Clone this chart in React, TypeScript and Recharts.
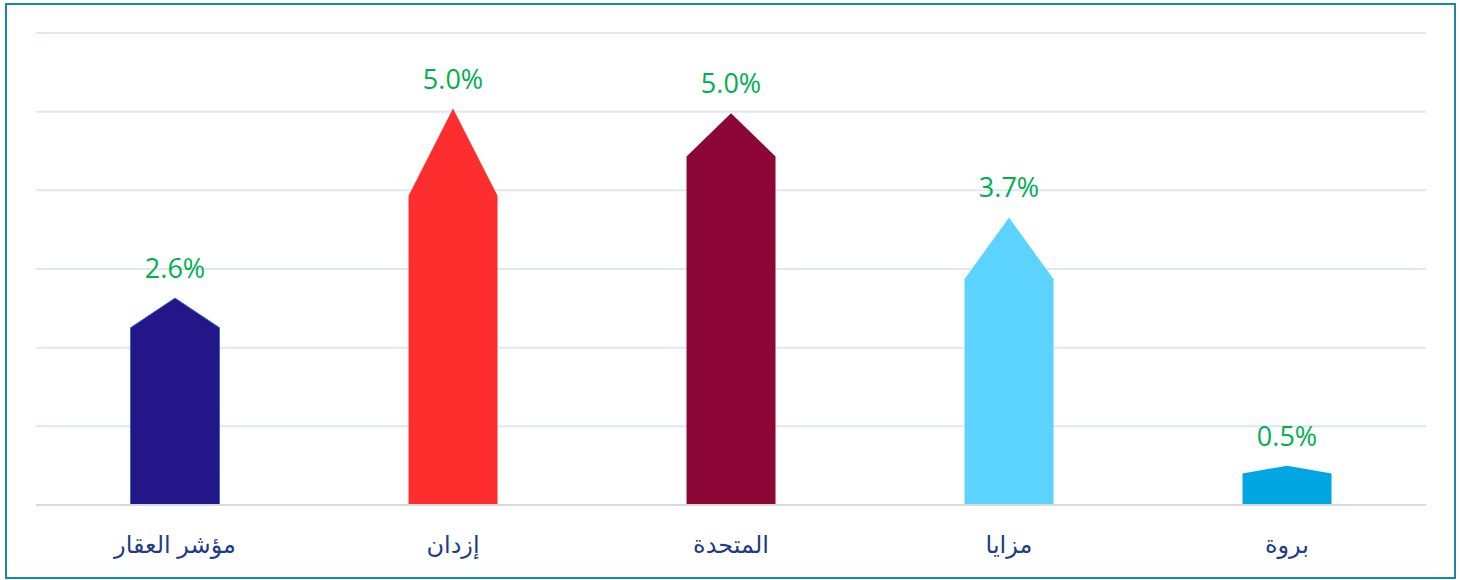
import React from 'react';
import { BarChart, Bar, XAxis, YAxis, CartesianGrid, LabelList, Cell } from 'recharts';

// companies, left to right
const companies = ['مؤشر العقار', 'إزدان', 'المتحدة', 'مزايا', 'بروة'];
// tip of each arrow (percent)
const changeValues = [2.63, 5.04, 4.98, 3.655, 0.5];
// where the straight body ends and the pointed cap starts (percent)
const shoulderValues = [2.254, 3.93, 4.43, 2.87, 0.4];
const yTicks = [0, 1, 2, 3, 4, 5, 6];

const barColors = ['#241689', '#ff2e2e', '#8c0735', '#5cd3ff', '#00a6e2'];

const data = companies.map((name, i) => ({
  name,
  value: changeValues[i],
  shoulder: shoulderValues[i],
}));

const ArrowBar = (props: any) => {
  const { x, y, width, height, index, fill } = props;
  if (height == null || height <= 0) return null;
  const d = data[index];
  const capH = height * (1 - d.shoulder / d.value);
  const bottom = y + height;
  const shoulderY = y + capH;
  const path = `M${x},${bottom} L${x},${shoulderY} L${x + width / 2},${y} L${x + width},${shoulderY} L${x + width},${bottom} Z`;
  const outlined = index === 0;
  return (
    <path
      d={path}
      fill={fill}
      stroke={outlined ? '#2f6fd0' : 'none'}
      strokeWidth={outlined ? 1 : 0}
    />
  );
};

const App: React.FC = () => {
  return (
    <div style={{ position: 'absolute', left: 0, top: 0, width: 1460, height: 580, background: '#fff' }}>
      <div
        style={{
          position: 'absolute',
          left: 5,
          top: 3,
          width: 1451,
          height: 576,
          border: '2px solid #1a86a8',
          boxSizing: 'border-box',
        }}
      />
      <div style={{ position: 'absolute', left: 0, top: 0 }}>
        <BarChart
          width={1460}
          height={580}
          data={data}
          margin={{ top: 33, right: 34, bottom: 30, left: 36 }}
          barCategoryGap="34%"
        >
          <CartesianGrid vertical={false} stroke="#dde8f4" strokeWidth={2} />
          <YAxis hide domain={[0, 6]} ticks={yTicks} />
          <XAxis
            dataKey="name"
            height={45}
            axisLine={{ stroke: '#d9d9d9', strokeWidth: 2 }}
            tickLine={false}
            tickMargin={25}
            tick={{ fill: '#1f3c88', fontSize: 24, fontFamily: 'Arial, "DejaVu Sans", sans-serif' }}
            interval={0}
          />
          <Bar dataKey="value" shape={ArrowBar} isAnimationActive={false}>
            {data.map((entry, i) => (
              <Cell key={`cell-${i}`} fill={barColors[i]} />
            ))}
            <LabelList
              dataKey="value"
              position="top"
              offset={20}
              formatter={(v: any) => `${Number(v).toFixed(1)}%`}
              fill="#00b050"
              fontSize={27}
              fontFamily='"Open Sans", sans-serif'
            />
          </Bar>
        </BarChart>
      </div>
    </div>
  );
};

export default App;
